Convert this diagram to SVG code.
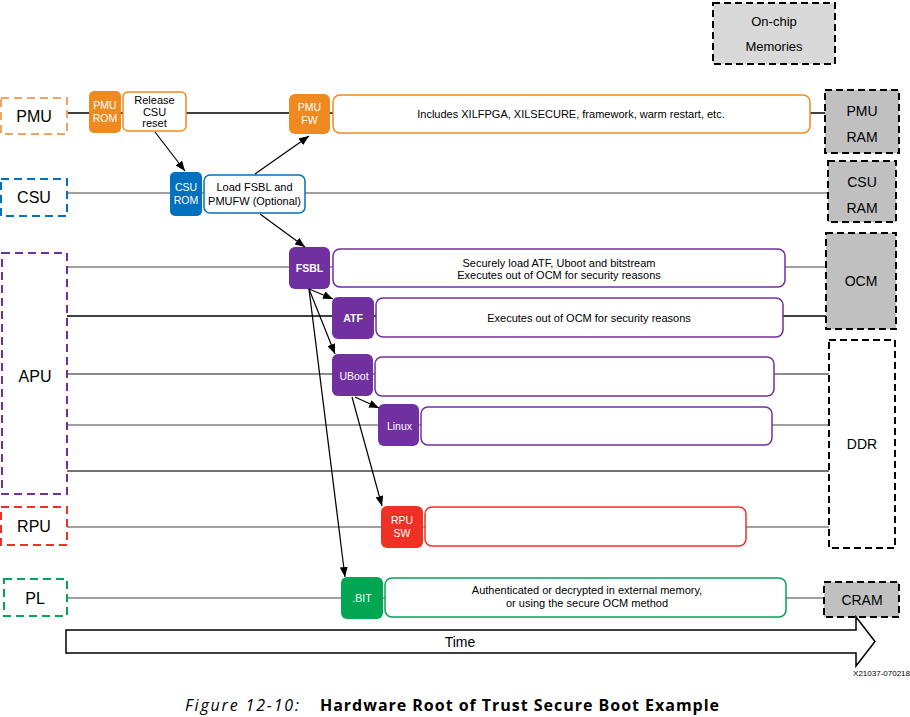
<svg xmlns="http://www.w3.org/2000/svg" width="910" height="717" viewBox="0 0 910 717">
<defs>
<marker id="ah" viewBox="0 0 10 8" refX="10" refY="4" markerWidth="10" markerHeight="8" markerUnits="userSpaceOnUse" orient="auto"><path d="M0,0 L10,4 L0,8 Z" fill="#000"/></marker>
<style>
text{font-family:"Liberation Sans",Arial,sans-serif;text-anchor:middle;}
.lane{fill:#fff;stroke-width:2;stroke-dasharray:8 5;}
.mem{fill:#c0c0c0;stroke:#000;stroke-width:2;stroke-dasharray:7 4;}
.lt{font-size:16px;fill:#000;}
.mt{font-size:14px;fill:#000;}
.nt{font-size:10.5px;fill:#fff;}
.bt{font-size:11px;fill:#000;}
.ln{stroke-width:1.5;fill:none;}
.ar{stroke:#000;stroke-width:1.2;fill:none;marker-end:url(#ah);}
</style>
</defs>
<rect width="910" height="717" fill="#fff"/>

<g id="lines">
<line class="ln" x1="67" y1="113" x2="825" y2="113" stroke="#000"/>
<line class="ln" x1="67" y1="193" x2="828" y2="193" stroke="#808080"/>
<line class="ln" x1="67" y1="267" x2="826" y2="267" stroke="#808080"/>
<line class="ln" x1="67" y1="316" x2="826" y2="316" stroke="#000"/>
<line class="ln" x1="67" y1="374" x2="829" y2="374" stroke="#666"/>
<line class="ln" x1="67" y1="425" x2="829" y2="425" stroke="#808080"/>
<line class="ln" x1="67" y1="471" x2="829" y2="471" stroke="#444"/>
<line class="ln" x1="67" y1="527" x2="829" y2="527" stroke="#808080"/>
<line class="ln" x1="67" y1="598" x2="824" y2="598" stroke="#808080"/>
</g>

<g id="onchip"><rect x="713" y="3" width="122" height="61" fill="#d9d9d9" stroke="#000" stroke-width="2" stroke-dasharray="7 4"/><text x="774" y="26" font-size="13">On-chip</text><text x="774" y="51" font-size="13">Memories</text></g>

<g id="lane-pmu"><rect class="lane" x="1" y="98" width="66" height="36" stroke="#f4a261"/><text class="lt" x="34" y="122">PMU</text></g>
<g id="lane-csu"><rect class="lane" x="1" y="179" width="66" height="37" stroke="#0070c0"/><text class="lt" x="34" y="203">CSU</text></g>
<g id="lane-apu"><rect class="lane" x="2" y="253" width="65" height="241" stroke="#7030a0"/><text class="lt" x="35" y="382" font-size="15">APU</text></g>
<g id="lane-rpu"><rect class="lane" x="1" y="507" width="66" height="38" stroke="#ee3124"/><text class="lt" x="34" y="532" font-size="15">RPU</text></g>
<g id="lane-pl"><rect class="lane" x="4" y="579" width="63" height="37" stroke="#00a651"/><text class="lt" x="35" y="604">PL</text></g>

<g id="mem-pmu"><rect class="mem" x="825" y="90" width="74" height="63"/><text class="mt" x="862" y="116">PMU</text><text class="mt" x="862" y="142">RAM</text></g>
<g id="mem-csu"><rect class="mem" x="828" y="161" width="68" height="61"/><text class="mt" x="862" y="187">CSU</text><text class="mt" x="862" y="213">RAM</text></g>
<g id="mem-ocm"><rect class="mem" x="826" y="233" width="70" height="96"/><text class="mt" x="861" y="286">OCM</text></g>
<g id="mem-ddr"><rect x="829" y="340" width="66" height="208" fill="#fff" stroke="#000" stroke-width="2" stroke-dasharray="7 4"/><text class="mt" x="862" y="449">DDR</text></g>
<g id="mem-cram"><rect class="mem" x="824" y="582" width="75" height="35"/><text class="mt" x="862" y="605">CRAM</text></g>

<g id="pmurom"><rect x="89" y="91" width="32" height="42" rx="5" fill="#ee8a1f"/><text class="nt" x="105" y="109">PMU</text><text class="nt" x="105" y="122">ROM</text></g>
<g id="release"><rect x="123" y="92" width="63" height="39" rx="5" fill="#fff" stroke="#ee8a1f" stroke-width="1.5"/><text class="bt" x="154.5" y="104">Release</text><text class="bt" x="154.5" y="116">CSU</text><text class="bt" x="154.5" y="127">reset</text></g>

<g id="pmufw"><rect x="289" y="94" width="41" height="40" rx="6" fill="#ee8a1f"/><text class="nt" x="309.5" y="111">PMU</text><text class="nt" x="309.5" y="124">FW</text></g>
<g id="pmufw-box"><rect x="333" y="95" width="477" height="38" rx="7" fill="#fff" stroke="#ee8a1f" stroke-width="1.5"/><text class="bt" x="571" y="118">Includes XILFPGA, XILSECURE, framework, warm restart, etc.</text></g>

<g id="csurom"><rect x="170" y="172" width="32" height="44" rx="5" fill="#0070c0"/><text class="nt" x="186" y="191">CSU</text><text class="nt" x="186" y="204">ROM</text></g>
<g id="loadfsbl"><rect x="204" y="175" width="101" height="38" rx="6" fill="#fff" stroke="#0070c0" stroke-width="1.5"/><text class="bt" x="254.5" y="191">Load FSBL and</text><text class="bt" x="254.5" y="205">PMUFW (Optional)</text></g>

<g id="fsbl"><rect x="289" y="247" width="41" height="42" rx="6" fill="#7030a0"/><text class="nt" x="309.5" y="272" font-weight="bold">FSBL</text></g>
<g id="fsbl-box"><rect x="333" y="249" width="452" height="38" rx="7" fill="#fff" stroke="#7030a0" stroke-width="1.5"/><text class="bt" x="559" y="267">Securely load ATF, Uboot and bitstream</text><text class="bt" x="559" y="279">Executes out of OCM for security reasons</text></g>

<g id="atf"><rect x="332" y="297" width="42" height="42" rx="6" fill="#7030a0"/><text class="nt" x="353" y="322" font-weight="bold">ATF</text></g>
<g id="atf-box"><rect x="376" y="298" width="407" height="39" rx="7" fill="#fff" stroke="#7030a0" stroke-width="1.5"/><text class="bt" x="589" y="322">Executes out of OCM  for security reasons</text></g>

<g id="uboot"><rect x="332" y="354" width="41" height="42" rx="6" fill="#7030a0"/><text class="nt" x="354" y="380">UBoot</text></g>
<g id="uboot-box"><rect x="375" y="357" width="399" height="39" rx="7" fill="#fff" stroke="#7030a0" stroke-width="1.5"/></g>

<g id="linux"><rect x="378" y="404" width="41" height="42" rx="6" fill="#7030a0"/><text class="nt" x="399.5" y="430">Linux</text></g>
<g id="linux-box"><rect x="421" y="407" width="351" height="38" rx="7" fill="#fff" stroke="#7030a0" stroke-width="1.5"/></g>

<g id="rpusw"><rect x="381" y="506" width="42" height="42" rx="6" fill="#ee3124"/><text class="nt" x="402" y="524">RPU</text><text class="nt" x="402" y="537">SW</text></g>
<g id="rpusw-box"><rect x="425" y="507" width="321" height="39" rx="7" fill="#fff" stroke="#ee3124" stroke-width="1.5"/></g>

<g id="bit"><rect x="341" y="577" width="42" height="42" rx="6" fill="#00a651"/><text class="nt" x="362" y="602">.BIT</text></g>
<g id="bit-box"><rect x="385" y="578" width="401" height="39" rx="7" fill="#fff" stroke="#00a651" stroke-width="1.5"/><text class="bt" x="587" y="594">Authenticated or decrypted in external memory,</text><text class="bt" x="587" y="607">or using the secure OCM method</text></g>

<g id="connectors">
<line class="ar" x1="155" y1="132" x2="185" y2="171"/>
<line class="ar" x1="255" y1="174" x2="309" y2="136"/>
<line class="ar" x1="260" y1="214" x2="305" y2="247"/>
<line class="ar" x1="309" y1="289" x2="333" y2="299"/>
<line class="ar" x1="309" y1="289" x2="335" y2="354"/>
<line class="ar" x1="309" y1="289" x2="345" y2="577"/>
<line class="ar" x1="355" y1="397" x2="379" y2="408"/>
<line class="ar" x1="352" y1="397" x2="382" y2="506"/>
</g>

<g id="time">
<path d="M66,630 L856,630 L856,617 L875,641.5 L856,666 L856,653 L66,653 Z" fill="#fff" stroke="#000" stroke-width="1.5"/>
<text x="460" y="647" font-size="14">Time</text>
</g>
<text x="910" y="676" font-size="8" style="text-anchor:end">X21037-070218</text>
<text x="185" y="711" font-size="16" font-style="italic" style="text-anchor:start;font-family:'Open Sans','Noto Sans',sans-serif" textLength="114">Figure 12-10:</text>
<text x="320" y="711" font-size="16" font-weight="bold" style="text-anchor:start;font-family:'Open Sans','Noto Sans',sans-serif" textLength="399">Hardware Root of Trust Secure Boot Example</text>
</svg>
